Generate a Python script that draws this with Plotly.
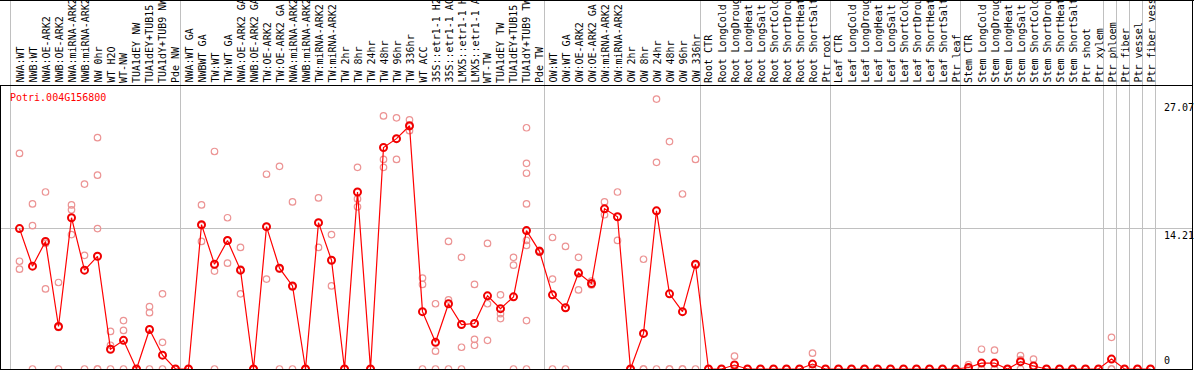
import plotly.graph_objects as go

# ---------------- data ----------------
categories = [
    "NWA:WT", "NWB:WT", "NWA:OE-ARK2", "NWB:OE-ARK2", "NWA:miRNA-ARK2", "NWB:miRNA-ARK2",
    "NW 0hr", "WT H2O", "WT-NW", "TUA1dEY NW", "TUA1dEY+TUB15 NW", "TUA1dY+TUB9 NW", "Pde NW",
    "NWA:WT GA", "NWBWT GA", "TW:WT", "TW:WT GA", "NWA:OE-ARK2 GA", "NWB:OE-ARK2 GA", "TW:OE-ARK2",
    "TW:OE-ARK2 GA", "NWA:miRNA-ARK2", "NWB:miRNA-ARK2", "TW:miRNA-ARK2", "TW:miRNA-ARK2",
    "TW 2hr", "TW 8hr", "TW 24hr", "TW 48hr", "TW 96hr", "TW 336hr", "WT ACC",
    "35S::etr1-1 H2O", "35S::etr1-1 ACC", "LMX5::etr1-1 H2O", "LMX5::etr1-1 ACC", "WT-TW",
    "TUA1dEY TW", "TUA1dEY+TUB15 TW", "TUA1dY+TUB9 TW", "Pde TW",
    "OW:WT", "OW:WT GA", "OW:OE-ARK2", "OW:OE-ARK2 GA", "OW:miRNA-ARK2", "OW:miRNA-ARK2",
    "OW 2hr", "OW 8hr", "OW 24hr", "OW 48hr", "OW 96hr", "OW 336hr",
    "Root CTR", "Root LongCold", "Root LongDrought", "Root LongHeat", "Root LongSalt",
    "Root ShortCold", "Root ShortDrought", "Root ShortHeat", "Root ShortSalt", "Ptr root",
    "Leaf CTR", "Leaf LongCold", "Leaf LongDrought", "Leaf LongHeat", "Leaf LongSalt",
    "Leaf ShortCold", "Leaf ShortDrought", "Leaf ShortHeat", "Leaf ShortSalt", "Ptr leaf",
    "Stem CTR", "Stem LongCold", "Stem LongDrought", "Stem LongHeat", "Stem LongSalt",
    "Stem ShortCold", "Stem ShortDrought", "Stem ShortHeat", "Stem ShortSalt",
    "Ptr shoot", "Ptr xylem", "Ptr phloem", "Ptr fiber", "Ptr vessel", "Ptr fiber vessel",
]

mean_values = [
    14.2, 10.4, 12.9, 4.3, 15.3, 10.0, 11.4, 2.0, 2.9, 0.0, 4.0, 1.4, 0.0,
    0.0, 14.6, 10.6, 13.0, 10.0, 0.0, 14.4, 10.2, 8.4, 0.0, 14.8, 11.0,
    0.0, 17.9, 0.0, 22.4, 23.3, 24.6, 5.8, 2.7, 6.6, 4.5, 4.6, 7.4,
    6.1, 7.3, 14.0, 11.9,
    7.5, 6.2, 9.7, 8.65, 16.2, 15.4, 0.0, 3.6, 16.0, 7.6, 5.8, 10.6,
    0.0, 0.0, 0.4, 0.0, 0.0, 0.0, 0.0, 0.0, 0.5, 0.0,
    0.0, 0.0, 0.0, 0.0, 0.0, 0.0, 0.0, 0.0, 0.0, 0.0,
    0.15, 0.6, 0.6, 0.0, 0.74, 0.3, 0.0, 0.0, 0.0,
    0.0, 0.0, 1.0, 0.0, 0.0, 0.0,
]

Z3 = [0, 0, 0]
replicates = [
    [21.8, 10.9, 10.1], [16.7, 14.5, 0], [17.9, 12.7, 8.1], [8.75, 4.2, 0],
    [16.6, 16.1, 13.6], [18.7, 11.5, 0], [23.4, 19.6, 14.2, 0, 0], [3.8, 2.4, 0],
    [4.9, 3.9, 0], Z3, [6.3, 5.7, 0], [7.6, 2.7, 0], Z3,
    Z3, [16.6, 14.5, 12.9], [22.0, 9.9, 0], [15.3, 13.0, 10.7], [12.3, 10.1, 7.6],
    Z3, [19.7, 14.4, 9.1], [20.5, 10.1, 0], [16.9, 8.3, 0], Z3,
    [17.3, 14.8, 12.3], [13.6, 11.0, 8.4], Z3, [20.4, 17.2, 16.4], Z3,
    [25.6, 21.2, 20.4], [25.4, 23.3, 21.2], [25.2, 24.5, 24.1], [9.2, 8.55, 0],
    [6.6, 1.8, 0], [12.9, 7.0, 0], [11.3, 2.2, 0], [8.55, 3.0, 2.4], [12.7, 6.6, 2.9],
    [7.5, 5.6, 5.1], [11.3, 10.5, 0], [24.4, 20.8, 19.8, 16.7, 13.0, 12.5, 4.9, 0],
    [12.0, 11.9, 11.8],
    [13.3, 9.1, 0], [12.4, 6.2, 0], [11.3, 9.8, 8.0], [8.9, 8.55, 8.5],
    [16.9, 16.2, 15.6], [17.9, 15.4, 13.0], Z3, [11.1, 0, 0], [27.3, 20.9, 0],
    [23.0, 0, 0], [17.7, 0, 0], [21.2, 10.5, 0],
    Z3, Z3, [1.3, 0, 0], Z3, Z3, Z3, Z3, Z3, [1.6, 0, 0], Z3,
    Z3, Z3, Z3, Z3, Z3, Z3, Z3, Z3, Z3, Z3,
    [0.45, 0, 0], [2.0, 0, 0], [1.9, 0, 0], Z3, [1.35, 0.94, 0], [1.0, 0, 0], Z3, Z3, Z3,
    Z3, Z3, [3.2, 0, 0], Z3, Z3, Z3,
]

gene_id = "Potri.004G156800"
tick_values = [0, 14.21, 27.07]
tick_labels = ["0", "14.21", "27.07"]
group_ends = [0, 13, 41, 53, 63, 73, 84, 85, 86, 87, 88]

# ---------------- layout helpers ----------------
W, H = 1194, 370
COL_W = 13.0
X0_PX = 6.5          # pixel of index 0
ZERO_PY = 369.0
PX_PER_UNIT = 9.887
FONT = "DejaVu Sans Mono"


def hx(px):
    return px / W


def vy(py):
    return 1 - py / H


x_range = [-X0_PX / COL_W, (W - X0_PX) / COL_W]
y_range = [-(H - ZERO_PY) / PX_PER_UNIT, ZERO_PY / PX_PER_UNIT]

xs = list(range(1, len(categories) + 1))
rep_x, rep_y = [], []
for xi, reps in zip(xs, replicates):
    for r in reps:
        rep_x.append(xi)
        rep_y.append(r)

fig = go.Figure()
fig.add_trace(go.Scatter(
    x=rep_x, y=rep_y, mode="markers", hoverinfo="skip",
    marker=dict(symbol="circle-open", size=6.5, color="#ec9494",
                line=dict(width=1.2, color="#ec9494")),
))
fig.add_trace(go.Scatter(
    x=xs, y=mean_values, mode="lines+markers",
    line=dict(color="#ff0000", width=1.2),
    marker=dict(symbol="circle-open", size=7, color="#f00000",
                line=dict(width=2, color="#f00000")),
))

shapes = []
black = dict(color="#000000", width=1)
gray = dict(color="#c0c0c0", width=1)
# gray separators
for i in group_ends:
    px = 10.5 if i == 0 else 11.5 + COL_W * i
    shapes.append(dict(type="line", xref="paper", yref="paper",
                       x0=hx(px), x1=hx(px), y0=vy(0), y1=vy(369.5), line=gray, layer="below"))
# middle gridline
shapes.append(dict(type="line", xref="paper", yref="y", x0=hx(1), x1=hx(1193),
                   y0=tick_values[1], y1=tick_values[1], line=gray, layer="below"))
# frame
shapes += [
    dict(type="line", xref="paper", yref="paper", x0=0, x1=1, y0=vy(0.5), y1=vy(0.5), line=black),
    dict(type="line", xref="paper", yref="paper", x0=0, x1=hx(1193), y0=vy(85.5), y1=vy(85.5), line=black),
    dict(type="line", xref="paper", yref="paper", x0=0, x1=hx(1193), y0=vy(369.5), y1=vy(369.5), line=black),
    dict(type="line", xref="paper", yref="paper", x0=hx(0.5), x1=hx(0.5), y0=vy(85.5), y1=0, line=black),
    dict(type="line", xref="paper", yref="paper", x0=hx(1192.5), x1=hx(1192.5), y0=1, y1=0, line=black),
]

annotations = []
for xi, lab in zip(xs, categories):
    annotations.append(dict(
        x=xi, xref="x", y=vy(84), yref="paper", text=lab, showarrow=False,
        textangle=-90, xanchor="center", yanchor="bottom",
        font=dict(family=FONT, size=10, color="#000000"), borderpad=0,
    ))
annotations.append(dict(
    x=hx(9), xref="paper", y=vy(97), yref="paper", text=gene_id, showarrow=False,
    xanchor="left", yanchor="middle", font=dict(family=FONT, size=10, color="#ff0000"),
    borderpad=0,
))
for v, lab in zip(tick_values, tick_labels):
    if v == 0:
        annotations.append(dict(x=hx(1163), xref="paper", y=vy(367), yref="paper", text=lab,
                                showarrow=False, xanchor="left", yanchor="bottom",
                                font=dict(family=FONT, size=10, color="#000000"), borderpad=0))
    else:
        annotations.append(dict(x=hx(1163), xref="paper", y=v, yref="y", text=lab,
                                showarrow=False, xanchor="left", yanchor="top",
                                font=dict(family=FONT, size=10, color="#000000"), borderpad=0))

fig.update_layout(
    width=W, height=H,
    margin=dict(l=0, r=0, t=0, b=0, pad=0),
    paper_bgcolor="#ffffff", plot_bgcolor="#ffffff",
    showlegend=False,
    xaxis=dict(range=x_range, visible=False, fixedrange=True),
    yaxis=dict(range=y_range, visible=False, fixedrange=True),
    shapes=shapes, annotations=annotations,
)

fig.write_html(
    "out.html",
    config={"displayModeBar": False, "staticPlot": True},
    post_script="document.body.style.margin='0';document.body.style.padding='0';"
                "document.body.style.overflow='hidden';",
)
